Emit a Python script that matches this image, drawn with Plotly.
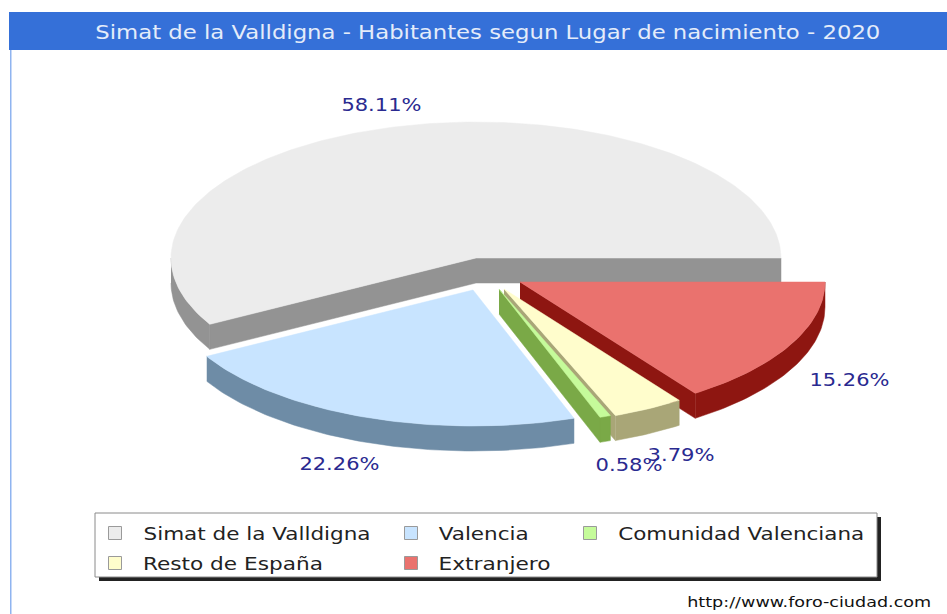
import json
import math
import plotly.graph_objects as go

# Data
categories = ["Simat de la Valldigna", "Valencia", "Comunidad Valenciana", "Resto de España", "Extranjero"]
values = [58.11, 22.26, 0.58, 3.79, 15.26]
title_text = "Simat de la Valldigna - Habitantes segun Lugar de nacimiento - 2020"
source_text = "http://www.foro-ciudad.com"

# Styles
top_colors = ["#ECECEC", "#C8E4FF", "#C5FB9A", "#FFFDCC", "#EA726E"]
side_colors = ["#939393", "#6E8CA6", "#7AA947", "#A9A677", "#8E1611"]
centers = [(476, 258), (473, 290), (499, 289), (504, 289), (520, 282)]
label_pos = [(381.5, 105), (339.5, 464), (628.5, 465), (680.5, 455), (849, 380)]
label_width = 80
small_label_width = 67
legend_swatches = [(115, 533), (411, 533), (590, 533), (115, 563), (411, 563)]
legend_text_pos = [(256.5, 533), (483, 533), (741, 533), (233, 563), (494, 563)]
legend_text_width = [227, 90, 246, 180, 112]
draw_order = [0, 1, 4, 3, 2]
RX, RY, DEPTH = 305, 136, 25
LABEL_COLOR = "#2A2A90"
FONT = "DejaVu Sans"

# Slice angles come from the values
bounds = [0.0]
for v in values:
    bounds.append(bounds[-1] + v / sum(values) * 360)


def rim(cx, cy, a0, a1, dy=0):
    n = max(2, int(abs(a1 - a0)) + 2)
    pts = [a0 + (a1 - a0) * i / (n - 1) for i in range(n)]
    return ([cx + RX * math.cos(math.radians(a)) for a in pts],
            [cy - RY * math.sin(math.radians(a)) + dy for a in pts])


fig = go.Figure()


def wall(xs, ys, color):
    fig.add_trace(go.Scatter(x=xs, y=ys, mode="lines", fill="toself", fillcolor=color,
                             line=dict(color=color, width=0.5), hoverinfo="skip", showlegend=False))


for i in draw_order:
    cx, cy = centers[i]
    a0, a1 = bounds[i], bounds[i + 1]
    # outer wall: only the front half of the rim shows
    lo, hi = max(a0, 180), min(a1, 360)
    if hi > lo:
        xa, ya = rim(cx, cy, lo, hi)
        xb, yb = rim(cx, cy, lo, hi, DEPTH)
        wall(xa + xb[::-1], ya + yb[::-1], side_colors[i])
    # radial walls facing the viewer
    for a, normal in ((a0, a0 - 90), (a1, a1 + 90)):
        if math.sin(math.radians(normal)) < 0:
            px = cx + RX * math.cos(math.radians(a))
            py = cy - RY * math.sin(math.radians(a))
            wall([cx, px, px, cx], [cy, py, py + DEPTH, cy + DEPTH], side_colors[i])
    # top face
    xt, yt = rim(cx, cy, a0, a1)
    fig.add_trace(go.Scatter(x=[cx] + xt + [cx], y=[cy] + yt + [cy], mode="lines", fill="toself",
                             fillcolor=top_colors[i], line=dict(color=top_colors[i], width=0.5),
                             name=categories[i], text=f"{categories[i]}: {values[i]:.2f}%",
                             hoverinfo="text", showlegend=False))

shapes = [
    dict(type="rect", x0=10, x1=11.5, y0=50, y1=614, fillcolor="#8FB4F0", line_width=0, layer="below"),
    dict(type="rect", x0=9, x1=947, y0=12, y1=50, fillcolor="#3570D8", line_width=0, layer="below"),
    dict(type="rect", x0=99, x1=881, y0=517, y1=581, fillcolor="#222222", line_width=0),
    dict(type="rect", x0=95, x1=877, y0=513, y1=577, fillcolor="#FFFFFF", line=dict(color="#8A8A8A", width=1)),
]
for (sx, sy), c in zip(legend_swatches, top_colors):
    shapes.append(dict(type="rect", x0=sx - 6.5, x1=sx + 6.5, y0=sy - 6.5, y1=sy + 6.5,
                       fillcolor=c, line=dict(color="#9A9A9A", width=1)))

annotations = []
stretch = {}


def add_text(x, y, text, size, color, width):
    annotations.append(dict(x=x, y=y, text=text, font=dict(family=FONT, size=size, color=color),
                            xanchor="center", yanchor="middle", showarrow=False))
    stretch[text] = width


add_text(488, 32, title_text, 19, "#E4ECFA", 785)
add_text(809, 602, source_text, 14, "#111111", 244)
for idx, ((lx, ly), v) in enumerate(zip(label_pos, values)):
    add_text(lx, ly, f"{v:.2f}%", 17, LABEL_COLOR, small_label_width if v < 10 else label_width)
for (tx, ty), name, w in zip(legend_text_pos, categories, legend_text_width):
    add_text(tx, ty, name, 18, "#222222", w)

fig.update_layout(
    width=947, height=614, autosize=False,
    margin=dict(l=0, r=0, t=0, b=0),
    paper_bgcolor="white", plot_bgcolor="white",
    xaxis=dict(range=[0, 947], visible=False, fixedrange=True),
    yaxis=dict(range=[614, 0], visible=False, fixedrange=True),
    shapes=shapes, annotations=annotations, showlegend=False,
)

# The reference text is horizontally stretched; the page margin is removed so it lines up.
post = """
document.body.style.margin = '0';
document.documentElement.style.overflow = 'hidden';
var widths = %s;
document.querySelectorAll('.annotation-text').forEach(function (t) {
  var w = widths[t.textContent];
  if (w) { t.setAttribute('textLength', w); t.setAttribute('lengthAdjust', 'spacingAndGlyphs'); }
});
""" % json.dumps(stretch)
fig.write_html("out.html", config={"displayModeBar": False}, post_script=post)
